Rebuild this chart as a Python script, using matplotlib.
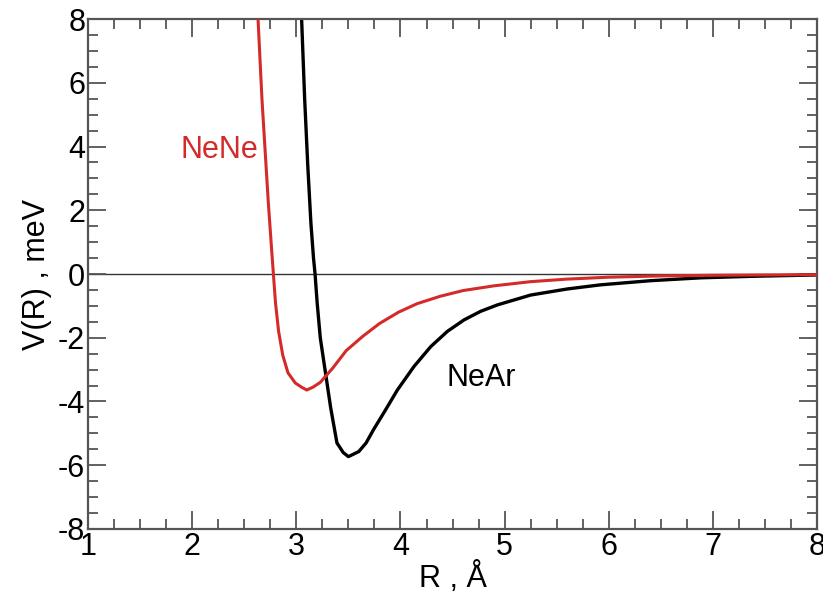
import matplotlib
matplotlib.use("Agg")
import matplotlib.pyplot as plt
from matplotlib.ticker import MultipleLocator

plt.rcParams['font.family'] = ['Liberation Sans', 'DejaVu Sans']
plt.rcParams['axes.unicode_minus'] = False

# NeNe potential (red)
r_nene = [2.625, 2.67, 2.70, 2.73, 2.76, 2.78, 2.80, 2.83, 2.87, 2.92, 2.99, 3.05, 3.10,
          3.16, 3.23, 3.35, 3.48, 3.64, 3.80, 3.98, 4.16, 4.38, 4.60, 4.90, 5.25,
          5.6, 6.0, 6.5, 7.0, 7.5, 8.0]
v_nene = [8.5, 5.5, 3.9, 2.3, 0.9, 0.0, -0.9, -1.8, -2.55, -3.1, -3.42, -3.55, -3.64,
          -3.55, -3.40, -2.95, -2.40, -1.95, -1.55, -1.20, -0.93, -0.70, -0.52, -0.37, -0.24,
          -0.16, -0.10, -0.06, -0.04, -0.03, -0.02]

# NeAr potential (black)
r_near = [3.045, 3.08, 3.11, 3.14, 3.165, 3.18, 3.20, 3.23, 3.28, 3.33, 3.39, 3.45, 3.50,
          3.60, 3.67, 3.74, 3.85, 3.97, 4.13, 4.29, 4.45, 4.61, 4.77, 4.93, 5.25,
          5.6, 5.92, 6.4, 6.88, 7.4, 8.0]
v_near = [8.5, 5.5, 3.4, 1.6, 0.5, 0.0, -0.9, -2.0, -3.1, -4.2, -5.3, -5.6, -5.73,
          -5.57, -5.3, -4.89, -4.3, -3.64, -2.90, -2.28, -1.80, -1.44, -1.17, -0.97, -0.66,
          -0.47, -0.34, -0.21, -0.12, -0.07, -0.03]

fig = plt.figure(figsize=(8.23, 6.04), dpi=100)
ax = fig.add_axes([0.1069, 0.1242, 0.886, 0.8443])

ax.axhline(0, color='#333333', lw=1.0, zorder=1)
ax.plot(r_nene, v_nene, color='#d42a2a', lw=2.2, zorder=3)
ax.plot(r_near, v_near, color='black', lw=2.4, zorder=2)

ax.set_xlim(1, 8)
ax.set_ylim(-8, 8)
ax.xaxis.set_major_locator(MultipleLocator(1))
ax.xaxis.set_minor_locator(MultipleLocator(0.25))
ax.yaxis.set_major_locator(MultipleLocator(2))
ax.yaxis.set_minor_locator(MultipleLocator(0.5))

frame_col = '#555555'
for s in ax.spines.values():
    s.set_color(frame_col)
    s.set_linewidth(1.6)
ax.tick_params(which='both', direction='in', top=True, right=True, color=frame_col,
               width=1.3)
ax.tick_params(which='major', length=13, labelsize=22, pad=2)
ax.tick_params(which='minor', length=7)

ax.set_xlabel('R , Å', fontsize=22, labelpad=0)
ax.set_ylabel('V(R) , meV', fontsize=22, labelpad=4)

ax.text(2.26, 3.9, 'NeNe', color='#d42a2a', fontsize=22, ha='center', va='center')
ax.text(4.78, -3.26, 'NeAr', color='black', fontsize=22, ha='center', va='center')

fig.savefig('out.png', dpi=100)
